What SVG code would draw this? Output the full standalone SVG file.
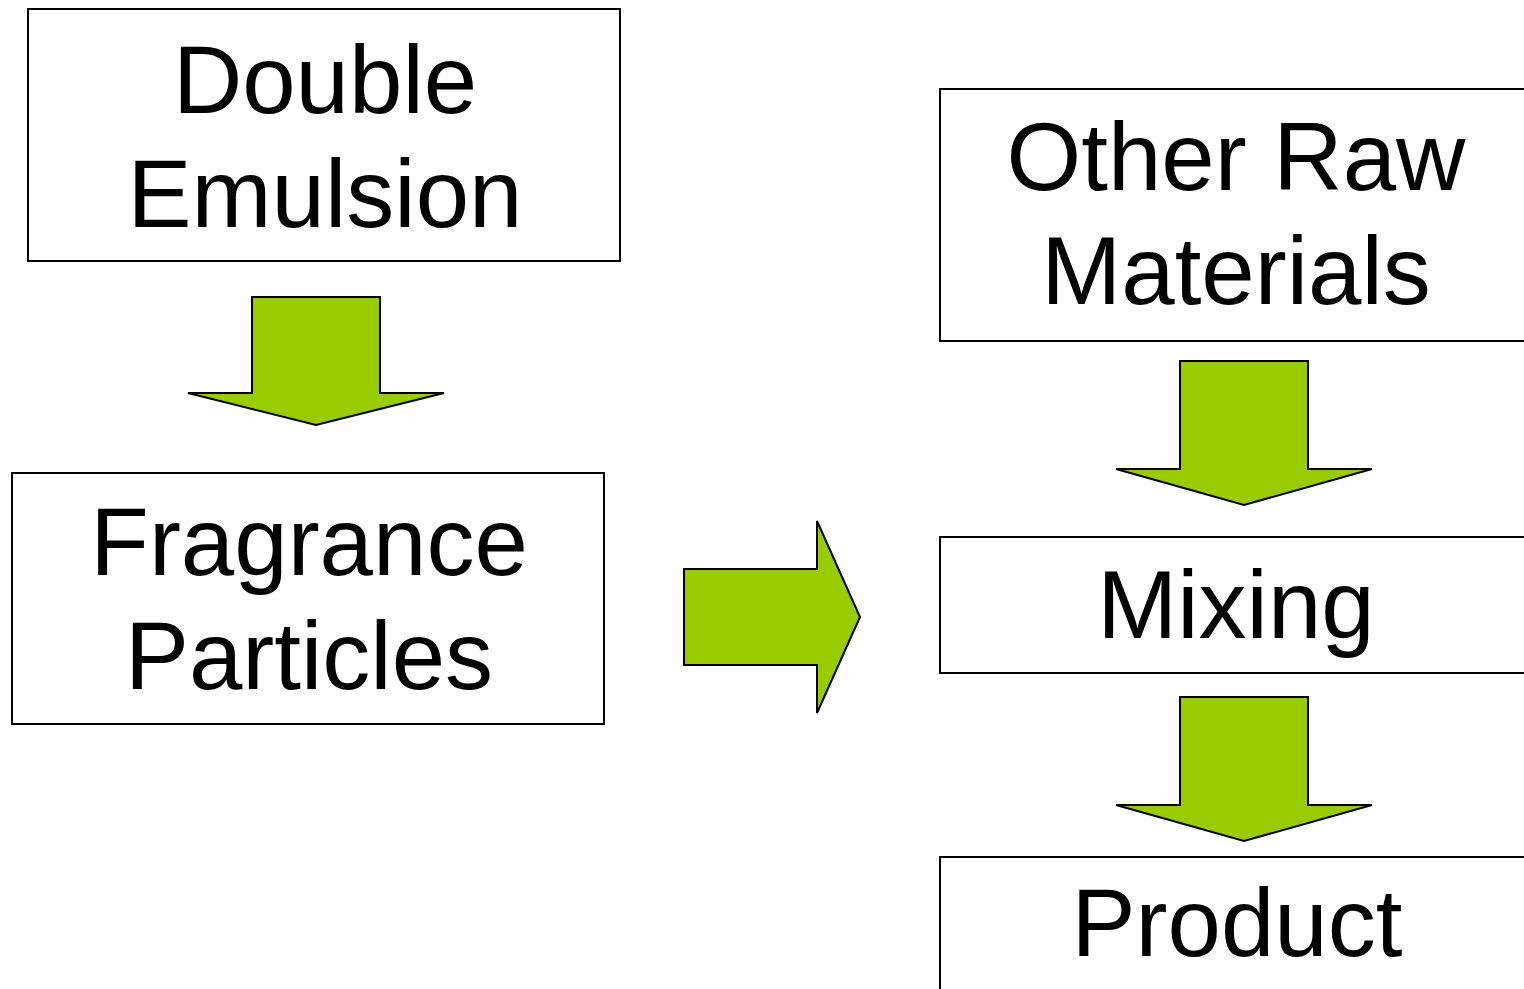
<svg xmlns="http://www.w3.org/2000/svg" width="1524" height="989" viewBox="0 0 1524 989">
  <style>
    .box { fill: #ffffff; stroke: #000000; stroke-width: 2; }
    .label { font-family: "Liberation Sans", Arial, sans-serif; font-size: 96px; fill: #000000; text-anchor: middle; }
    .arrow { fill: #99cc00; stroke: #000000; stroke-width: 2; stroke-linejoin: miter; }
  </style>
  <rect width="1524" height="989" fill="#ffffff"/>

  <g id="double-emulsion">
    <rect class="box" x="28" y="9" width="592" height="252"/>
    <text class="label" x="325" y="113">Double</text>
    <text class="label" x="325" y="227">Emulsion</text>
  </g>

  <g id="fragrance-particles">
    <rect class="box" x="12" y="473" width="592" height="251"/>
    <text class="label" x="309" y="575">Fragrance</text>
    <text class="label" x="309" y="689">Particles</text>
  </g>

  <g id="other-raw-materials">
    <rect class="box" x="940" y="89" width="600" height="252"/>
    <text class="label" x="1236" y="190">Other Raw</text>
    <text class="label" x="1236" y="304">Materials</text>
  </g>

  <g id="mixing">
    <rect class="box" x="940" y="537" width="600" height="136"/>
    <text class="label" x="1236" y="638">Mixing</text>
  </g>

  <g id="product">
    <rect class="box" x="940" y="857" width="600" height="160"/>
    <text class="label" x="1237" y="956">Product</text>
  </g>

  <g id="connectors">
    <polygon class="arrow" points="252,297 380,297 380,393 444,393 316,425 188,393 252,393"/>
    <polygon class="arrow" points="684,569 817,569 817,521 860,617 817,713 817,665 684,665"/>
    <polygon class="arrow" points="1180,361 1308,361 1308,469 1372,469 1244,505 1116,469 1180,469"/>
    <polygon class="arrow" points="1180,697 1308,697 1308,805 1372,805 1244,841 1116,805 1180,805"/>
  </g>
</svg>
